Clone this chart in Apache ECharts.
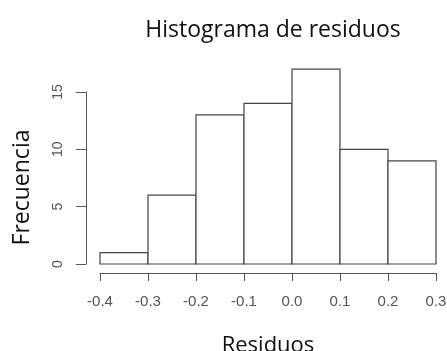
<!DOCTYPE html>
<html>
<head>
<meta charset="utf-8">
<script src="https://cdn.jsdelivr.net/npm/echarts@6/dist/echarts.min.js"></script>
<style>
  html, body { margin: 0; padding: 0; background: #fff; }
  #main { width: 447px; height: 351px; }
</style>
</head>
<body>
<div id="main"></div>
<script>
// histogram bins (left edge, right edge) and counts
const binStart = [-0.4, -0.3, -0.2, -0.1, 0.0, 0.1, 0.2];
const binEnd = [-0.3, -0.2, -0.1, 0.0, 0.1, 0.2, 0.3];
const counts = [1, 6, 13, 14, 17, 10, 9];
const yTicks = [0, 5, 10, 15];

const chart = echarts.init(document.getElementById('main'), null, { renderer: 'canvas' });

const axisColor = '#555';
const labelColor = '#555';

const option = {
  animation: false,
  backgroundColor: '#fff',
  title: {
    text: 'Histograma de residuos',
    left: 268,
    top: 14,
    textAlign: 'center',
    textStyle: {
      fontFamily: 'Open Sans',
      fontWeight: 'normal',
      fontSize: 23,
      color: '#111'
    }
  },
  grid: {
    left: 100,
    right: 11,
    top: 92,
    bottom: 87,
    outerBoundsMode: 'none',
    containLabel: false
  },
  xAxis: {
    type: 'value',
    min: -0.4,
    max: 0.3,
    interval: 0.1,
    offset: 9,
    name: 'Residuos',
    nameLocation: 'middle',
    nameGap: 62,
    nameTextStyle: { fontFamily: 'Open Sans', fontSize: 22, color: '#111' },
    axisLine: { show: true, onZero: false, lineStyle: { color: axisColor, width: 1 } },
    axisTick: { show: true, length: 8, lineStyle: { color: axisColor } },
    axisLabel: {
      margin: 21,
      fontFamily: 'Liberation Sans',
      fontSize: 15,
      color: labelColor,
      formatter: v => (Math.abs(v) < 1e-9 ? 0 : v).toFixed(1)
    },
    splitLine: { show: false }
  },
  yAxis: {
    type: 'value',
    min: yTicks[0],
    max: yTicks[yTicks.length - 1],
    interval: 5,
    offset: 14,
    name: 'Frecuencia',
    nameLocation: 'middle',
    nameGap: 52,
    nameRotate: 90,
    nameTextStyle: { fontFamily: 'Open Sans', fontSize: 23, color: '#111', padding: [0, 19, 0, 0] },
    axisLine: { show: true, onZero: false, lineStyle: { color: axisColor, width: 1 } },
    axisTick: { show: true, length: 10, lineStyle: { color: axisColor } },
    axisLabel: {
      rotate: 90,
      margin: 21,
      fontFamily: 'Liberation Sans',
      fontSize: 14,
      color: labelColor
    },
    splitLine: { show: false }
  },
  series: [{
    type: 'custom',
    clip: false,
    data: counts.map((c, i) => [binStart[i], binEnd[i], c]),
    renderItem: function (params, api) {
      const p0 = api.coord([api.value(0), 0]);
      const p1 = api.coord([api.value(1), api.value(2)]);
      return {
        type: 'rect',
        shape: { x: p0[0], y: p1[1], width: p1[0] - p0[0], height: p0[1] - p1[1] },
        style: { fill: '#fff', stroke: '#444', lineWidth: 1.2 }
      };
    }
  }]
};

chart.setOption(option);
</script>
</body>
</html>
